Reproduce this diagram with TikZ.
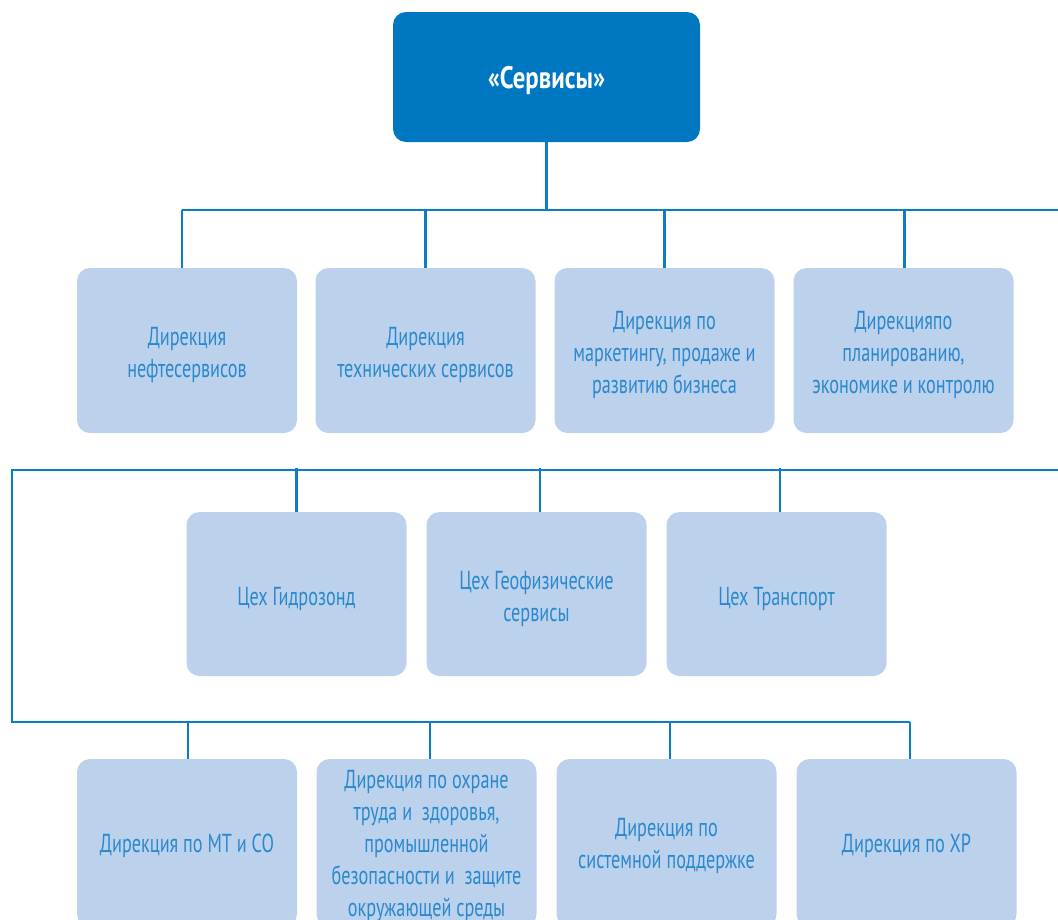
\documentclass[tikz,border=0pt]{standalone}
\usepackage{fontspec}
\setmainfont{PT Sans}[FakeStretch=0.7]
\newfontfamily\titlefont{PT Sans Bold}[FakeStretch=0.8]
\definecolor{mainblue}{HTML}{0077C1}
\definecolor{linecol}{HTML}{0E7CC4}
\definecolor{boxfill}{HTML}{BCD1EC}
\definecolor{txtcol}{HTML}{2A89CE}
\newcommand\lowerfirst{\rule{0pt}{28pt}}
\tikzset{
  topbox/.style={rectangle, rounded corners=13pt, fill=mainblue, minimum width=307pt, minimum height=130pt, text=white, font=\titlefont\fontsize{31}{36}\selectfont, inner sep=0pt},
  unitbox/.style={rectangle, rounded corners=13pt, fill=boxfill, minimum width=220pt, minimum height=165pt, text=txtcol, align=center, font=\fontsize{26}{32}\selectfont, inner sep=0pt},
  conn/.style={draw=linecol, line width=2.6pt}
}
\begin{document}
\begin{tikzpicture}[x=1pt,y=-1pt]
\clip (0,0) rectangle (1058,919);
\useasboundingbox (0,0) rectangle (1058,919);
\node[topbox] (root) at (546.5,77) {\rule{0pt}{30pt}«Сервисы»};
% row 1
\node[unitbox] (r1a) at (187,350.5) {\lowerfirst Дирекция\\нефтесервисов};
\node[unitbox] (r1b) at (425.5,350.5) {\lowerfirst Дирекция\\технических сервисов};
\node[unitbox] (r1c) at (664.5,350.5) {\lowerfirst Дирекция по\\маркетингу, продаже и\\развитию бизнеса};
\node[unitbox] (r1d) at (903.5,350.5) {\lowerfirst Дирекцияпо\\планированию,\\экономике и контролю};
% row 2
\node[unitbox, minimum height=164pt] (r2a) at (296.5,594) {\lowerfirst Цех Гидрозонд};
\node[unitbox, minimum height=164pt] (r2b) at (536.5,594) {\lowerfirst Цех Геофизические\\сервисы};
\node[unitbox, minimum height=164pt] (r2c) at (776.5,594) {\lowerfirst Цех Транспорт};
% row 3
\node[unitbox, minimum height=168pt] (r3a) at (187,843) {\rule{0pt}{24pt}Дирекция по МТ и СО};
\node[unitbox, minimum height=168pt] (r3b) at (426.5,843) {\rule{0pt}{24pt}Дирекция по охране\\труда и \ здоровья,\\промышленной\\безопасности и \ защите\\окружающей среды};
\node[unitbox, minimum height=168pt] (r3c) at (666.5,843) {\rule{0pt}{24pt}Дирекция по\\системной поддержке};
\node[unitbox, minimum height=168pt] (r3d) at (906.5,843) {\rule{0pt}{24pt}Дирекция по ХР};
% buses
\coordinate (b1L) at (182,210);
\coordinate (b1R) at (1060,210);
\coordinate (b2L) at (12,470);
\coordinate (b2R) at (1060,470);
\coordinate (b3L) at (12,722);
\coordinate (b3R) at (910,722);
\draw[conn] (root.south) -- (root.south |- b1L);
\draw[conn] (b1L) -- (b1R);
\draw[conn] (b1L) -- (b1L |- r1a.north);
\draw[conn] (r1b.north) -- (r1b.north |- b1L);
\draw[conn] (r1c.north) -- (r1c.north |- b1L);
\draw[conn] ([xshift=1pt]r1d.north) -- ([xshift=1pt]r1d.north |- b1L);
\draw[conn] (b2R) -- (b2L) -- (b3L) -- (b3R);
\draw[conn] (r2a.north) -- ([yshift=2pt]r2a.north |- b2L);
\draw[conn] ([xshift=3.5pt]r2b.north) -- ([xshift=3.5pt,yshift=2pt]r2b.north |- b2L);
\draw[conn] ([xshift=3.5pt]r2c.north) -- ([xshift=3.5pt,yshift=2pt]r2c.north |- b2L);
\draw[conn] ([xshift=1pt]r3a.north) -- ([xshift=1pt]r3a.north |- b3L);
\draw[conn] ([xshift=3.5pt]r3b.north) -- ([xshift=3.5pt]r3b.north |- b3L);
\draw[conn] ([xshift=3.5pt]r3c.north) -- ([xshift=3.5pt]r3c.north |- b3L);
\draw[conn] (b3R) -- (b3R |- r3d.north);
\end{tikzpicture}
\end{document}
